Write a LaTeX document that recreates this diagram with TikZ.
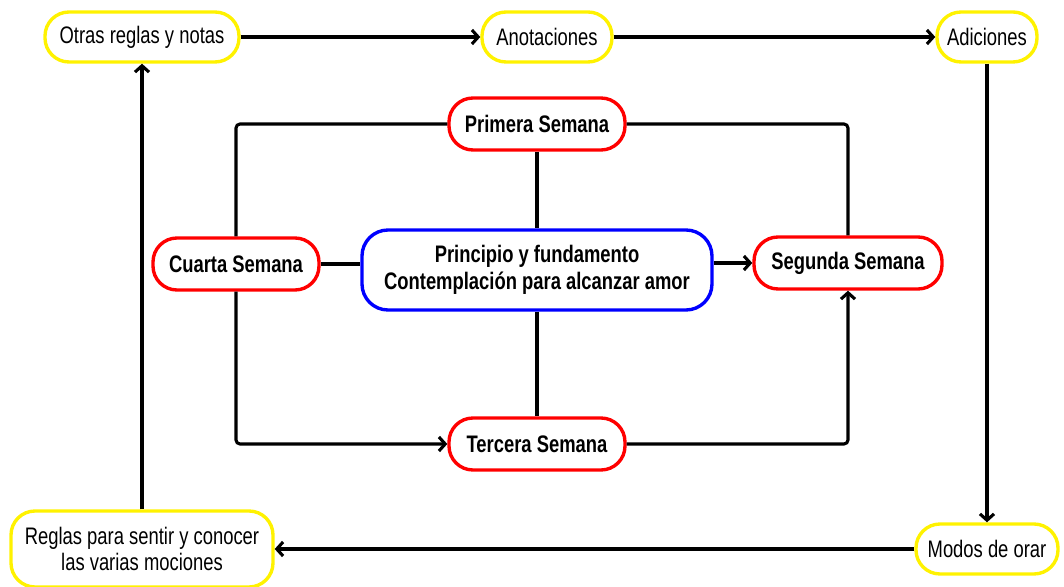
\documentclass[tikz,border=0pt]{standalone}
\usepackage{fontspec}
\setmainfont{Liberation Sans}[FakeStretch=0.77]
\usepackage{tikz}
\usetikzlibrary{shapes.misc, arrows.meta}
\usetikzlibrary{calc}
\usetikzlibrary{positioning}

\begin{document}
\begin{tikzpicture}[
        nodes={minimum height=1.25cm, inner xsep=2pt,
        text centered, font = {\fontsize{17}{21}\selectfont}},
        part_style/.style={rectangle, rounded corners=0.6cm, draw=yellow, line width=2.4pt, fill=white},
        week_style/.style={rectangle, rounded corners=0.6cm, draw=red, line width=2.4pt, fill=white,
          minimum height=1.3cm, font={\fontsize{17}{21}\selectfont\bfseries}},
        core_style/.style={rectangle, rounded corners=0.65cm, draw=blue, line width=2.4pt, fill=white,
          minimum height=2cm, align=center, font={\fontsize{17}{19}\selectfont\bfseries}},
        link_style/.style={line width=2.2pt, rounded corners=0.1cm},
        >={Straight Barb[length=4.5pt, width=10pt]},
      node distance=3cm]

      \useasboundingbox (0,0) rectangle (26.6,-14.675);

      \node[part_style, minimum width=4.85cm] (otras) at (3.55,-0.925) {Otras reglas y notas};
      \node[part_style, minimum width=3.25cm] (anot) at (13.675,-0.925) {Anotaciones};
      \node[part_style, minimum width=2.5cm] (adic) at (24.675,-0.925) {Adiciones};
      \node[part_style, minimum width=3.55cm] (modos) at (24.675,-13.725) {Modos de orar};
      \node[part_style, minimum width=6.55cm, minimum height=1.9cm, align=center,
        font={\fontsize{17}{18}\selectfont}] (reglas) at (3.55,-13.725)
        {Reglas para sentir y conocer\\las varias mociones};

      \node[core_style, minimum width=8.75cm] (centro) at (13.425,-6.75)
        {Principio y fundamento\\Contemplación para alcanzar amor};
      \node[week_style, minimum width=4.4cm] (primera) at (13.425,-3.1) {Primera Semana};
      \node[week_style, minimum width=4.4cm] (tercera) at (13.425,-11.1) {Tercera Semana};
      \node[week_style, minimum width=4.15cm] (cuarta) at (5.9,-6.6) {Cuarta Semana};
      \node[week_style, minimum width=4.7cm] (segunda) at (21.2,-6.575) {Segunda Semana};

      % outer loop
      \draw[->, link_style] (otras) -- (anot);
      \draw[->, link_style] (anot) -- (adic);
      \draw[->, link_style] (adic) -- (modos);
      \draw[->, link_style] (modos) -- (reglas);
      \draw[->, link_style] (reglas) -- (otras);

      % weeks
      \draw[link_style] (primera) -| (cuarta);
      \draw[->, link_style] (cuarta) |- (tercera);
      \draw[link_style] (primera) -| (segunda);
      \draw[->, link_style] (tercera) -| (segunda);
      \draw[link_style] (primera) -- (centro);
      \draw[link_style] (centro) -- (tercera);
      \draw[link_style] (cuarta) -- (cuarta -| centro.west);
      \draw[->, link_style] (segunda -| centro.east) -- (segunda);
    \end{tikzpicture}
\end{document}
